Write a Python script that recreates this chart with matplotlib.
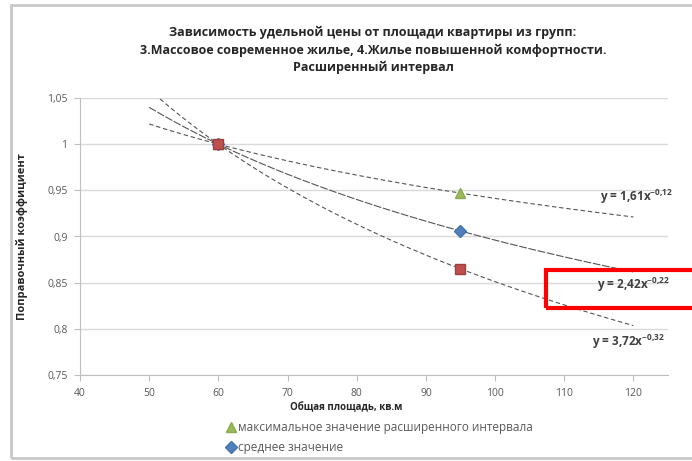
import numpy as np
import matplotlib
matplotlib.use('Agg')
from matplotlib import pyplot as plt
from matplotlib.patches import Rectangle

plt.rcParams['font.family'] = ['Open Sans', 'DejaVu Sans']
plt.rcParams['mathtext.default'] = 'regular'

# data
x_area = [60, 95]
coef_max = [1.0, 0.947]
coef_mean = [1.0, 0.906]
coef_min = [1.0, 0.865]
trend_from, trend_to = 50, 120

x_ticks = [40, 50, 60, 70, 80, 90, 100, 110, 120]
y_ticks = [0.75, 0.8, 0.85, 0.9, 0.95, 1.0, 1.05]
y_tick_labels = ['0,75', '0,8', '0,85', '0,9', '0,95', '1', '1,05']

eq_labels = ['y = 1,61x$^{-0{,}12}$', 'y = 2,42x$^{-0{,}22}$', 'y = 3,72x$^{-0{,}32}$']
eq_pos = [(115.2, 0.943), (114.7, 0.848), (114.0, 0.786)]

title = ('Зависимость удельной цены от площади квартиры из групп:\n'
         '3.Массовое современное жилье, 4.Жилье повышенной комфортности.\n'
         'Расширенный интервал')

grey = '#595959'

fig = plt.figure(figsize=(6.92, 4.61), dpi=100)
ax = fig.add_axes([80/692, 1-375/461, (668-80)/692, (375-98)/461])

# power trendlines, fitted like excel does
xt = np.linspace(trend_from, trend_to, 200)
styles = [(0, (4, 2.5)), (0, (7, 1.5)), (0, (4, 2.5))]
for vals, ls in zip([coef_max, coef_mean, coef_min], styles):
    b, lna = np.polyfit(np.log(x_area), np.log(vals), 1)
    ax.plot(xt, np.exp(lna)*xt**b, color='#555555', lw=0.8, linestyle=ls, zorder=2)

ax.plot(x_area, coef_max, '^', color='#9bbb59', mec='#8aa84e', ms=7.5, ls='none', zorder=3,
        label='максимальное значение расширенного интервала')
ax.plot(x_area, coef_mean, 'D', color='#4f81bd', mec='#4572a7', ms=6, ls='none', zorder=3,
        label='среднее значение')
ax.plot(x_area, coef_min, 's', color='#c0504d', mec='#a0403d', ms=7, ls='none', zorder=4)

ax.set_xlim(40, 125)
ax.set_ylim(0.75, 1.05)
ax.set_xticks(x_ticks)
ax.set_yticks(y_ticks)
ax.set_yticklabels(y_tick_labels)
ax.grid(axis='y', color='#d9d9d9', lw=1)
ax.set_axisbelow(True)
for s in ['top', 'right']:
    ax.spines[s].set_visible(False)
for s in ['left', 'bottom']:
    ax.spines[s].set_color('#bfbfbf')
ax.tick_params(colors='#bfbfbf', labelcolor=grey, labelsize=7.5, length=4, pad=5)

ax.set_xlabel('Общая площадь, кв.м', fontsize=7, fontweight='bold', color='#262626')
ax.xaxis.set_label_coords((346-80)/588, (375-408)/277)
ax.xaxis.label.set_va('center')
ax.set_ylabel('Поправочный коэффициент', fontsize=8, fontweight='bold', color='#262626', labelpad=14)

for lab, (ex, ey) in zip(eq_labels, eq_pos):
    ax.text(ex, ey, lab, fontsize=8.5, fontweight='bold', color='#404040',
            va='center', ha='left', clip_on=False)

fig.text(373/692, 1-50/461, title, ha='center', va='center', fontsize=9,
         fontweight='bold', color='#262626', linespacing=1.4)

leg = fig.legend(loc='upper left', bbox_to_anchor=(222/692, 1-416/461), frameon=False,
                 fontsize=8.5, labelspacing=0.65, handlelength=0.7, handletextpad=0.25,
                 borderaxespad=0)
for t in leg.get_texts():
    t.set_color(grey)

# chart area border and red highlight box
fig.patches.append(Rectangle((11/692, 1-458/461), 700/692, 453/461, transform=fig.transFigure,
                             fill=False, ec='#c8c8c8', lw=2))
fig.patches.append(Rectangle((546/692, 1-308/461), 160/692, 38/461, transform=fig.transFigure,
                             fill=False, ec='#ff0000', lw=3))

plt.savefig('out.png', dpi=100)
